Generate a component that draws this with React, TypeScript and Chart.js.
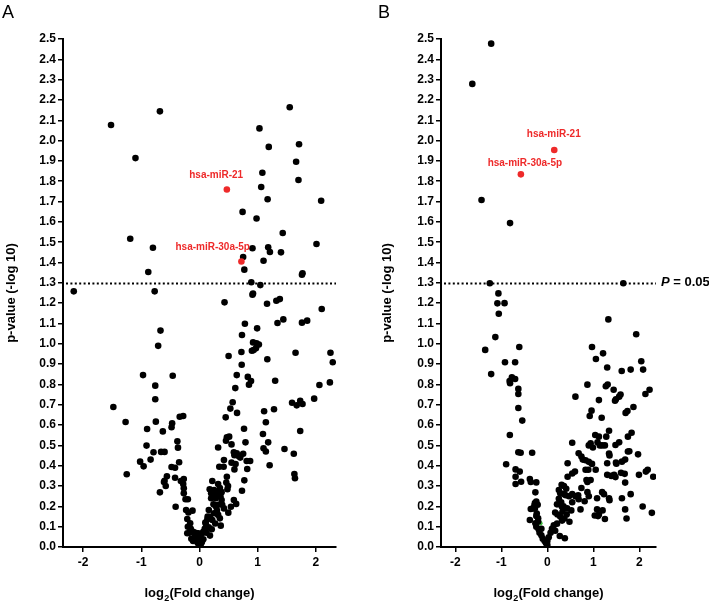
import { useEffect, useRef } from "react";
import { Chart, registerables } from "chart.js";

Chart.register(...registerables);

type Pt = [number, number];

const FONT = "'Liberation Sans', Arial, Helvetica, sans-serif";
const THRESHOLD = 1.3;
const X_TICKS = [-2, -1, 0, 1, 2];
const Y_TICKS = [0, 0.1, 0.2, 0.3, 0.4, 0.5, 0.6, 0.7, 0.8, 0.9, 1.0, 1.1, 1.2, 1.3, 1.4, 1.5, 1.6, 1.7, 1.8, 1.9, 2.0, 2.1, 2.2, 2.3, 2.4, 2.5];
const X_TITLE_PARTS = ["log", "2", "(Fold change)"];
const Y_TITLE = "p-value (-log 10)";

// ---------- Panel A ----------
const panelATop: Pt[] = [
  [-1.52, 2.077], [-0.68, 2.144], [-1.1, 1.914], [-1.19, 1.517], [-0.8, 1.473], [-0.88, 1.353], [-2.16, 1.258], [-0.77, 1.258],
  [1.55, 2.164], [1.03, 2.06], [1.19, 1.969], [1.71, 1.982], [1.66, 1.896], [1.08, 1.842], [1.7, 1.806], [1.06, 1.772],
  [1.17, 1.711], [2.09, 1.704], [0.74, 1.649], [0.98, 1.617], [1.43, 1.545], [2.01, 1.491], [0.91, 1.47], [1.18, 1.475],
  [1.21, 1.452], [1.4, 1.45], [0.75, 1.427], [1.1, 1.409], [0.77, 1.365], [1.77, 1.347], [1.76, 1.34], [0.89, 1.303],
  [1.045, 1.289], [0.92, 1.247], [0.91, 1.242],
];
const panelARightMid: Pt[] = [
  [0.43, 1.204], [1.16, 1.197], [1.32, 1.212], [1.38, 1.22], [2.1, 1.171], [0.78, 1.099], [1.44, 1.12], [1.76, 1.104],
  [1.85, 1.114], [1.34, 1.102], [0.99, 1.076], [0.73, 1.043], [0.92, 1.007], [0.98, 1.003], [1.02, 0.996], [0.97, 0.978],
  [0.93, 0.969], [0.9, 0.966], [0.72, 0.96], [0.5, 0.94], [1.165, 0.924], [1.65, 0.956], [2.25, 0.956], [2.29, 0.909],
  [0.725, 0.897], [0.64, 0.846], [0.83, 0.837], [0.885, 0.817], [0.85, 0.799], [1.3, 0.818], [0.615, 0.782], [2.24, 0.81],
  [2.06, 0.797], [1.97, 0.73], [0.57, 0.712], [0.53, 0.681], [0.645, 0.66], [1.11, 0.668], [1.28, 0.678], [1.59, 0.71],
  [1.67, 0.697], [1.73, 0.72], [1.77, 0.704],
];
const panelARightLow: Pt[] = [
  [0.45, 0.638], [1.14, 0.614], [0.765, 0.582], [1.73, 0.571], [1.09, 0.556], [0.47, 0.54], [0.51, 0.543], [0.455, 0.523],
  [0.79, 0.515], [0.55, 0.505], [1.18, 0.515], [0.32, 0.49], [1.1, 0.486], [1.14, 0.47], [1.46, 0.482], [1.62, 0.459],
  [0.59, 0.466], [0.64, 0.461], [0.67, 0.448], [0.75, 0.459], [0.6, 0.452], [0.7, 0.44], [0.42, 0.428], [0.55, 0.415],
  [0.81, 0.423], [0.87, 0.423], [0.62, 0.408], [1.205, 0.402], [0.34, 0.395], [0.415, 0.395], [0.6, 0.382], [0.82, 0.384],
  [1.63, 0.359], [1.64, 0.338], [0.47, 0.346], [0.22, 0.325], [0.46, 0.317], [0.77, 0.328], [0.32, 0.31], [0.49, 0.3],
  [0.175, 0.284], [0.35, 0.29], [0.48, 0.284], [0.73, 0.277], [0.2, 0.264], [0.26, 0.26], [0.32, 0.254], [0.28, 0.24],
  [0.2, 0.24], [0.38, 0.231], [0.59, 0.231], [0.63, 0.212], [0.54, 0.198], [0.24, 0.21], [0.32, 0.208], [0.39, 0.208],
  [0.42, 0.19], [0.16, 0.182], [0.495, 0.169], [0.25, 0.166], [0.32, 0.158], [0.18, 0.149], [0.135, 0.136], [0.22, 0.133],
  [0.35, 0.141], [0.27, 0.116], [0.365, 0.105], [0.11, 0.113], [0.16, 0.097], [0.09, 0.089], [0.21, 0.087], [0.066, 0.075],
  [0.12, 0.07], [0.04, 0.066], [0.18, 0.056], [-0.02, 0.067], [-0.05, 0.051], [0.01, 0.043], [0.066, 0.038], [-0.03, 0.028],
  [0.04, 0.023], [0.0, 0.012], [0.02, 0.005], [0.28, 0.2], [0.3, 0.18], [0.25, 0.28], [0.36, 0.25], [0.14, 0.15],
  [0.1, 0.12], [0.3, 0.27], [0.38, 0.27],
];
const panelALeft: Pt[] = [
  [-0.67, 1.065], [-0.71, 0.99], [-0.97, 0.846], [-0.46, 0.843], [-0.76, 0.794], [-0.76, 0.727], [-1.48, 0.689], [-1.27, 0.615],
  [-0.75, 0.617], [-0.9, 0.581], [-0.63, 0.569], [-0.47, 0.609], [-0.48, 0.589], [-0.34, 0.641], [-0.28, 0.645], [-0.91, 0.499],
  [-0.79, 0.466], [-0.66, 0.468], [-0.6, 0.468], [-0.38, 0.52], [-0.37, 0.489], [-1.02, 0.42], [-0.84, 0.43], [-0.96, 0.397],
  [-0.35, 0.417], [-0.48, 0.394], [-0.42, 0.39], [-1.25, 0.358], [-0.6, 0.326], [-0.56, 0.348], [-0.58, 0.3], [-0.61, 0.32],
  [-0.68, 0.269], [-0.42, 0.341], [-0.32, 0.325], [-0.27, 0.335], [-0.28, 0.31], [-0.27, 0.289], [-0.27, 0.264], [-0.24, 0.235],
  [-0.2, 0.235], [-0.41, 0.198], [-0.23, 0.182], [-0.19, 0.17], [-0.12, 0.179], [-0.21, 0.138], [-0.16, 0.117], [-0.2, 0.1],
  [-0.15, 0.09], [-0.11, 0.075], [-0.17, 0.07], [-0.07, 0.07], [-0.21, 0.068], [-0.08, 0.05], [-0.14, 0.04], [-0.06, 0.035],
  [-0.01, 0.03], [-0.03, 0.02], [-0.11, 0.03],
];
const panelAHighlight: Pt[] = [[0.47, 1.759], [0.72, 1.405]];
const panelAHighlightNames = ["hsa-miR-21", "hsa-miR-30a-5p"];

// ---------- Panel B ----------
const panelBTop: Pt[] = [
  [-1.22, 2.477], [-1.63, 2.279], [-1.43, 1.708], [-0.81, 1.594], [-1.25, 1.298], [1.65, 1.298],
];
const panelBLeft: Pt[] = [
  [-1.063, 1.248], [-1.085, 1.199], [-0.93, 1.2], [-1.055, 1.148], [-1.13, 1.033], [-0.61, 0.984], [-1.35, 0.97], [-0.92, 0.909],
  [-0.7, 0.909], [-1.22, 0.851], [-0.77, 0.835], [-0.7, 0.827], [-0.82, 0.817], [-0.81, 0.806], [-0.63, 0.778], [-0.63, 0.753],
  [-0.63, 0.684], [-0.545, 0.622], [-0.815, 0.551], [-0.63, 0.466], [-0.58, 0.464], [-0.33, 0.464], [-0.895, 0.407], [-0.69, 0.382],
  [-0.6, 0.371], [-0.69, 0.346], [-0.57, 0.321], [-0.69, 0.31], [-0.38, 0.335], [-0.36, 0.32], [-0.24, 0.318], [-0.26, 0.269],
  [-0.24, 0.224], [-0.27, 0.216], [-0.21, 0.208], [-0.36, 0.187], [-0.31, 0.19], [-0.27, 0.19], [-0.38, 0.133], [-0.24, 0.152],
  [-0.2, 0.141], [-0.26, 0.117], [-0.24, 0.1], [-0.19, 0.087], [-0.17, 0.07], [-0.13, 0.058], [-0.1, 0.041], [-0.06, 0.03],
  [-0.02, 0.02], [0.0, 0.01], [-0.2, 0.125], [-0.13, 0.09], [-0.23, 0.165], [-0.28, 0.205],
];
const panelBRightUp: Pt[] = [
  [1.325, 1.12], [1.93, 1.047], [0.97, 0.984], [1.21, 0.953], [1.055, 0.925], [2.04, 0.914], [1.3, 0.883], [2.08, 0.873],
  [1.615, 0.866], [1.81, 0.873], [0.87, 0.799], [1.27, 0.791], [1.31, 0.8], [1.44, 0.774], [2.22, 0.774], [2.13, 0.753],
  [1.59, 0.75], [1.56, 0.74], [1.49, 0.727], [0.61, 0.74], [1.12, 0.723], [1.47, 0.72], [1.87, 0.689], [1.74, 0.669],
  [1.7, 0.66], [0.96, 0.671],
];
const panelBRightLow: Pt[] = [
  [0.92, 0.645], [1.18, 0.636], [1.34, 0.572], [1.83, 0.562], [1.04, 0.551], [1.12, 0.543], [1.28, 0.543], [1.75, 0.543],
  [0.54, 0.513], [0.94, 0.51], [0.9, 0.5], [0.99, 0.49], [1.09, 0.515], [1.14, 0.5], [1.19, 0.5], [1.25, 0.5],
  [1.56, 0.515], [1.48, 0.502], [1.97, 0.456], [1.75, 0.47], [0.68, 0.461], [0.74, 0.445], [0.77, 0.43], [1.34, 0.46],
  [1.35, 0.45], [0.83, 0.427], [0.9, 0.419], [0.44, 0.412], [1.3, 0.412], [1.49, 0.415], [1.62, 0.42], [0.97, 0.409],
  [0.83, 0.38], [0.89, 0.38], [1.05, 0.38], [0.6, 0.371], [0.54, 0.362], [0.44, 0.346], [1.39, 0.35], [1.3, 0.355],
  [1.45, 0.355], [1.48, 0.344], [1.68, 0.36], [2.14, 0.371], [2.18, 0.38], [2.3, 0.346], [1.99, 0.355], [0.85, 0.33],
  [0.87, 0.32], [0.94, 0.33], [0.74, 0.29], [0.36, 0.3], [0.41, 0.287], [0.31, 0.306], [0.25, 0.28], [0.28, 0.265],
  [0.36, 0.26], [0.47, 0.25], [0.4, 0.255], [0.54, 0.26], [0.61, 0.25], [0.67, 0.255], [0.87, 0.27], [0.9, 0.25],
  [1.19, 0.27], [1.23, 0.26], [1.08, 0.24], [1.34, 0.24], [1.62, 0.24], [1.81, 0.26], [0.68, 0.235], [0.81, 0.225],
  [0.54, 0.22], [0.25, 0.237], [0.21, 0.21], [0.31, 0.2], [0.43, 0.19], [0.52, 0.18], [0.72, 0.185], [1.08, 0.185],
  [1.03, 0.155], [1.12, 0.16], [1.25, 0.138], [2.07, 0.199], [2.27, 0.168], [1.69, 0.185], [1.72, 0.14], [0.17, 0.17],
  [0.22, 0.16], [0.28, 0.15], [0.32, 0.13], [0.21, 0.115], [0.14, 0.107], [0.1, 0.09], [0.17, 0.08], [0.07, 0.07],
  [0.27, 0.054], [0.38, 0.043], [0.03, 0.048], [0.0, 0.03], [-0.03, 0.02], [1.69, 0.317], [1.6, 0.365], [1.78, 0.471],
  [1.69, 0.43], [1.5, 0.41], [1.2, 0.18], [1.1, 0.152], [1.35, 0.23], [0.48, 0.124], [0.35, 0.2], [0.3, 0.22],
  [0.33, 0.175], [0.37, 0.14], [0.42, 0.16],
];
const panelBHighlight: Pt[] = [[0.15, 1.954], [-0.575, 1.834]];
const panelBHighlightNames = ["hsa-miR-21", "hsa-miR-30a-5p"];
const panelBGreen: Pt[] = [[-0.15, 0.117]];

type PanelCfg = {
  letter: string;
  letterX: number;
  left: number;
  width: number;
  padLeft: number;
  yWidth: number;
  padRight: number;
  xMin: number;
  xMax: number;
  black: Pt[];
  red: Pt[];
  redNames: string[];
  redOffsets: [number, number][];
  green: Pt[];
  showP: boolean;
};

const PANELS: PanelCfg[] = [
  {
    letter: "A", letterX: 2, left: 0, width: 355, padLeft: 0, yWidth: 63, padRight: 19,
    xMin: -2.345, xMax: 2.345,
    black: [...panelATop, ...panelARightMid, ...panelARightLow, ...panelALeft],
    red: panelAHighlight, redNames: panelAHighlightNames, redOffsets: [[-10.7, -14], [-28.7, -14.3]],
    green: [], showP: false,
  },
  {
    letter: "B", letterX: 23, left: 355, width: 354, padLeft: 21, yWidth: 65, padRight: 53,
    xMin: -2.31, xMax: 2.36,
    black: [...panelBTop, ...panelBLeft, ...panelBRightUp, ...panelBRightLow],
    red: panelBHighlight, redNames: panelBHighlightNames, redOffsets: [[-0.5, -15.7], [4, -11]],
    green: panelBGreen, showP: true,
  },
];

const toXY = (pts: Pt[]) => pts.map(([x, y]) => ({ x, y }));

function makeDecor(cfg: PanelCfg) {
  return {
    id: "decor" + cfg.letter,
    beforeDatasetsDraw(chart: any) {
      const { ctx, chartArea, scales } = chart;
      const y = Math.round(scales.y.getPixelForValue(THRESHOLD)) + 0.5;
      ctx.save();
      ctx.strokeStyle = "#000";
      ctx.lineWidth = 2;
      ctx.setLineDash([2, 2.4]);
      ctx.beginPath();
      ctx.moveTo(chartArea.left + 3, y);
      ctx.lineTo(chartArea.right, y);
      ctx.stroke();
      ctx.restore();
    },
    afterDraw(chart: any) {
      const { ctx, chartArea, scales } = chart;
      ctx.save();
      // Panel letter
      ctx.fillStyle = "#000";
      ctx.font = `18px ${FONT}`;
      ctx.textAlign = "left";
      ctx.textBaseline = "alphabetic";
      ctx.fillText(cfg.letter, cfg.letterX, 17.5);
      // X axis title with subscript
      {
        const big = `bold 13px ${FONT}`;
        const small = `bold 9px ${FONT}`;
        ctx.font = big;
        const w1 = ctx.measureText(X_TITLE_PARTS[0]).width;
        const w3 = ctx.measureText(X_TITLE_PARTS[2]).width;
        ctx.font = small;
        const w2 = ctx.measureText(X_TITLE_PARTS[1]).width;
        const total = w1 + w2 + w3 + 0.5;
        let x = (chartArea.left + chartArea.right) / 2 - total / 2;
        const base = 597;
        ctx.font = big;
        ctx.fillText(X_TITLE_PARTS[0], x, base);
        x += w1 + 0.3;
        ctx.font = small;
        ctx.fillText(X_TITLE_PARTS[1], x, base + 3.5);
        x += w2 + 0.2;
        ctx.font = big;
        ctx.fillText(X_TITLE_PARTS[2], x, base);
      }
      // Red labels
      ctx.fillStyle = "#ee2a2a";
      ctx.font = `bold 10px ${FONT}`;
      ctx.textAlign = "center";
      ctx.textBaseline = "middle";
      cfg.red.forEach(([vx, vy], i) => {
        const px = scales.x.getPixelForValue(vx);
        const py = scales.y.getPixelForValue(vy);
        const [dx, dy] = cfg.redOffsets[i];
        ctx.fillText(cfg.redNames[i], px + dx, py + dy);
      });
      // P = 0.05 label
      if (cfg.showP) {
        const py = scales.y.getPixelForValue(THRESHOLD);
        let x = chartArea.right + 5;
        ctx.fillStyle = "#000";
        ctx.textAlign = "left";
        ctx.font = `italic bold 13px ${FONT}`;
        ctx.fillText("P", x, py);
        x += ctx.measureText("P").width;
        ctx.font = `bold 13px ${FONT}`;
        ctx.fillText(" = 0.05", x, py);
      }
      ctx.restore();
    },
  };
}

function Panel({ cfg }: { cfg: PanelCfg }) {
  const ref = useRef<HTMLCanvasElement | null>(null);
  useEffect(() => {
    if (!ref.current) return;
    const tickFont = { family: FONT, size: 12, weight: "bold" as const };
    const titleFont = { family: FONT, size: 13, weight: "bold" as const };
    const chart = new Chart(ref.current, {
      type: "scatter",
      data: {
        datasets: [
          { data: toXY(cfg.red), backgroundColor: "#ee2a2a", pointRadius: 3.3, borderWidth: 0, order: 0 },
          { data: toXY(cfg.black), backgroundColor: "#000", pointRadius: 3.3, borderWidth: 0, order: 1 },
          { data: toXY(cfg.green), backgroundColor: "#3fbf3f", pointRadius: 2.2, borderWidth: 0, order: 2 },
        ],
      },
      options: {
        animation: false,
        responsive: false,
        maintainAspectRatio: false,
        devicePixelRatio: 1,
        layout: { padding: { left: cfg.padLeft, right: cfg.padRight, top: 39, bottom: 0 } },
        plugins: { legend: { display: false }, tooltip: { enabled: false } },
        scales: {
          x: {
            type: "linear",
            min: cfg.xMin,
            max: cfg.xMax,
            afterBuildTicks: (s: any) => { s.ticks = X_TICKS.map((v) => ({ value: v })); },
            afterFit: (s: any) => { s.height = 57; },
            grid: { drawOnChartArea: false, drawTicks: true, tickLength: 5, color: "#000", lineWidth: 1.5 },
            border: { display: true, color: "#000", width: 2 },
            ticks: { color: "#000", font: tickFont, padding: 3, maxRotation: 0, autoSkip: false, callback: (v: any) => String(v) },
            title: { display: false },
          },
          y: {
            type: "linear",
            min: 0,
            max: 2.5,
            afterBuildTicks: (s: any) => { s.ticks = Y_TICKS.map((v) => ({ value: v })); },
            afterFit: (s: any) => { s.width = cfg.yWidth; },
            grid: { drawOnChartArea: false, drawTicks: true, tickLength: 5, color: "#000", lineWidth: 1.5 },
            border: { display: true, color: "#000", width: 2 },
            ticks: { color: "#000", font: tickFont, padding: 2, autoSkip: false, callback: (v: any) => Number(v).toFixed(1) },
            title: { display: true, text: Y_TITLE, color: "#000", font: titleFont, padding: { top: 4, bottom: 4 } },
          },
        },
      },
      plugins: [makeDecor(cfg)],
    } as any);
    return () => chart.destroy();
  }, [cfg]);
  return (
    <canvas
      ref={ref}
      width={cfg.width}
      height={604}
      style={{ position: "absolute", left: cfg.left, top: 0, width: cfg.width, height: 604, display: "block" }}
    />
  );
}

export default function App() {
  return (
    <div style={{ position: "absolute", left: 0, top: 0, width: 709, height: 604, background: "#fff", overflow: "hidden" }}>
      {PANELS.map((p) => (
        <Panel key={p.letter} cfg={p} />
      ))}
    </div>
  );
}
